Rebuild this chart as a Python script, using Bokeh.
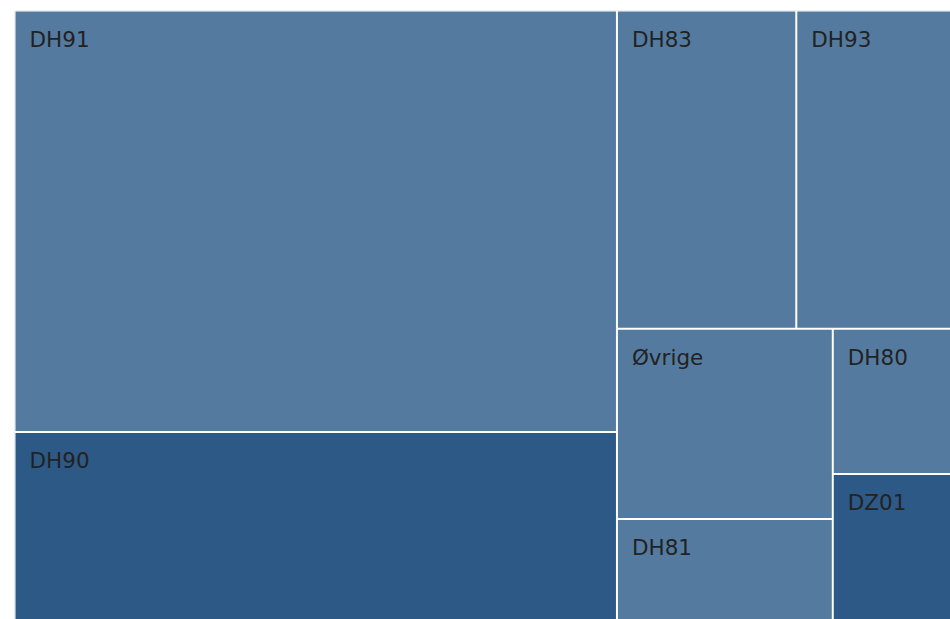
from bokeh.plotting import figure
from bokeh.models import Range1d, ColumnDataSource
from bokeh.core.properties import value
from bokeh.embed import file_html
from bokeh.resources import INLINE

# ---- data ----
labels = ["DH91", "DH90", "DH83", "DH93", "Øvrige", "DH81", "DH80", "DZ01"]
values = [44.5, 19.8, 10.0, 8.6, 7.2, 3.8, 3.0, 3.0]
highlight = [False, True, False, False, False, False, False, True]

# treemap nesting: ("h", ...) splits left-to-right, ("v", ...) splits top-to-bottom
layout = ("h", [("v", [0, 1]),
                ("v", [("h", [2, 3]),
                       ("h", [("v", [4, 5]), ("v", [6, 7])])])])

LIGHT = "#547b9f"
DARK = "#2d5986"


def subtotal(node):
    if isinstance(node, int):
        return values[node]
    return sum(subtotal(c) for c in node[1])


rects = {}


def place(node, x0, y0, x1, y1):
    if isinstance(node, int):
        rects[node] = (x0, y0, x1, y1)
        return
    direction, children = node
    tot = subtotal(node)
    pos = x0 if direction == "h" else y0
    for c in children:
        frac = subtotal(c) / tot
        if direction == "h":
            w = (x1 - x0) * frac
            place(c, pos, y0, pos + w, y1)
            pos += w
        else:
            h = (y1 - y0) * frac
            place(c, x0, pos, x1, pos + h)
            pos += h


place(layout, 0.0, 0.0, 1.0, 1.0)

idx = list(range(len(labels)))
src = ColumnDataSource(dict(
    left=[rects[i][0] for i in idx],
    top=[rects[i][1] for i in idx],
    right=[rects[i][2] for i in idx],
    bottom=[rects[i][3] for i in idx],
    label=labels,
    color=[DARK if h else LIGHT for h in highlight],
))

p = figure(width=950, height=619, output_backend="svg", toolbar_location=None,
           x_range=Range1d(0, 1), y_range=Range1d(1, 0),
           min_border_left=14, min_border_top=10, min_border_right=0, min_border_bottom=0)
p.axis.visible = False
p.grid.visible = False
p.outline_line_color = None
p.background_fill_color = "white"
p.border_fill_color = "white"

p.quad(left="left", right="right", top="top", bottom="bottom", source=src,
       fill_color="color", line_color=None)
# white separators: left and top edge of every tile (covers all internal borders)
p.segment(x0="left", y0="top", x1="left", y1="bottom", source=src,
          line_color="white", line_width=2)
p.segment(x0="left", y0="top", x1="right", y1="top", source=src,
          line_color="white", line_width=2)
p.text(x="left", y="top", text="label", source=src, x_offset=15, y_offset=16,
       text_baseline="top", text_align="left", text_font=value("DejaVu Sans"),
       text_font_size="21.5px", text_color="#222222")

open("out.html", "w").write(file_html(p, INLINE))
